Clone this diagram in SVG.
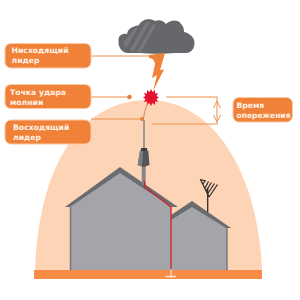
<svg xmlns="http://www.w3.org/2000/svg" width="300" height="300" viewBox="0 0 300 300">
<style>
.label{fill:#f08138;stroke:#fbc9a2;stroke-width:1}
.label-text{font-family:"DejaVu Sans",sans-serif;font-size:7.700px;font-weight:700;fill:#fff2e6}
.lead{stroke:#ee8f4d;stroke-width:1.2;fill:none}
.dot{fill:#e2813f}
.wall{fill:#a4a5aa}
.edge{stroke:#77787c;stroke-width:1.5;fill:none}
.roof{fill:#6b6c70}
.ant{stroke:#2c2c2e;fill:none}
</style>
<rect width="300" height="300" fill="#fff"/>
<!-- protection zone and ground strip -->
<path d="M35 270C38 175 75 100 148 100C215 100 258 175 262 270Z" fill="#fdd4b6"/>
<rect x="34" y="270" width="228" height="9" fill="#f68c45"/>
<g id="connectors">
<path class="lead" d="M91 56H150"/>
<path class="lead" d="M91 97H129"/>
<path class="lead" d="M91 119H142"/>
<path class="lead" d="M166 97H218"/>
<path class="lead" d="M152 124H218"/>
<path d="M217 98V123M213.500 108L217 101L220.500 108M213.500 115L217 122L220.500 115" fill="none" stroke="#ee8f4d" stroke-width="1"/>
<circle class="dot" cx="129.500" cy="97" r="2.300"/>
<circle class="dot" cx="142" cy="119" r="2"/>
</g>
<g id="cloud">
<path d="M118.500 41C118 35 123 33 127 34C128 27 136 26 139 25C142 19 150 18 155 21C159 19 164 21 166 24C170 20 178 19 181 24C184 27 184 30 184 32C190 33 195 38 194.500 44C194 50 190 53 186 53L175 53C165 54 150 54 140 53L128 53C122 53 118 47 118.500 41Z" fill="#66676b"/>
<path d="M130 50L146 22L150 22L133 52ZM137 52L153 24L156 25L141 52ZM123 43L135 28L138 28L126 48Z" fill="#85868a" opacity=".55"/>
</g>
<g id="bolt">
<path d="M149 55L165 53L160 70L164 69.500L153 91L157 75L152 78L155 64C154.500 60 152 58 149 58Z" fill="#f08138"/>
</g>
<g id="strike">
<path d="M151 89L152.500 92L155 90L155 93.500L158 93L156.500 96L159 97.500L156.500 99L158 102L155 101.500L155 105L152.500 103L151 106L149.500 103L147 105L147 101.500L144 102L145.500 99L143 97.500L145.500 96L144 93L147 93.500L147 90L149.500 92Z" fill="#e3122e"/>
<path d="M147.500 103C146 108 144 112 143.500 119" fill="none" stroke="#d9825a" stroke-width="1"/>
</g>
<g id="house-large">
<path class="wall" d="M70.500 270V206L120 171L171 207V270Z"/>
<path class="edge" d="M70.500 207V270"/>
<path class="roof" d="M65 207L120 167L178 207L172 207L120 173L70 207Z"/>
</g>
<g id="house-small">
<path class="wall" d="M171.500 270V218L192 205L227 228V270Z"/>
<path class="edge" d="M227 228V270"/>
<path class="roof" d="M171 215L192 201L231 228L226 228L192 207L171 220Z"/>
</g>
<g id="antenna">
<path class="ant" d="M207.700 212V188" stroke-width="1.300"/>
<path class="ant" d="M200.500 179.500L209 197" stroke-width="1.200"/>
<path class="ant" stroke-width="1.200" d="M200 179.500L206 181M203 184L205 180.500M205 188L208.500 181.500M206 191L211.500 182.500M207.500 194L214.500 183.500M209 197L217.500 184.500"/>
</g>
<g id="air-terminal">
<path d="M144 120V148" stroke="#8a8b8f" stroke-width="1.600"/>
<rect x="141.700" y="165" width="4" height="20" fill="#85868a"/>
<path d="M140 150.500L148.300 150.500L149.500 165L143.700 167L137.700 165Z" fill="#55565a"/>
<path d="M140 150.500L143 150.500L142 166L137.700 165Z" fill="#7d7f84"/>
<rect x="141" y="148" width="6" height="3" fill="#3f4044"/>
<path d="M144.500 181V187L171 207V269" fill="none" stroke="#c9252f" stroke-width="1.400"/>
</g>
<g id="ground-rod">
<path d="M171 270V278M165.500 276.500H176" stroke="#fce3c6" stroke-width="1.300"/>
</g>
<g id="label-descending">
<rect class="label" x="5" y="43.500" width="86" height="24.500" rx="6"/>
<text class="label-text" x="11.500" y="53">Нисходящий</text>
<text class="label-text" x="11.500" y="62.500">лидер</text>
</g>
<g id="label-strike">
<rect class="label" x="5" y="84.500" width="86" height="24" rx="6"/>
<text class="label-text" x="10" y="95">Точка удара</text>
<text class="label-text" x="10" y="104.500">молнии</text>
</g>
<g id="label-ascending">
<rect class="label" x="5" y="120" width="86" height="24" rx="6"/>
<text class="label-text" x="13" y="130">Восходящий</text>
<text class="label-text" x="13" y="139.500">лидер</text>
</g>
<g id="label-time">
<rect class="label" x="233" y="97.500" width="59.500" height="24.500" rx="6"/>
<text class="label-text" x="236.500" y="108">Время</text>
<text class="label-text" x="236.500" y="117.500" textLength="54" lengthAdjust="spacingAndGlyphs">опережения</text>
</g>
</svg>
